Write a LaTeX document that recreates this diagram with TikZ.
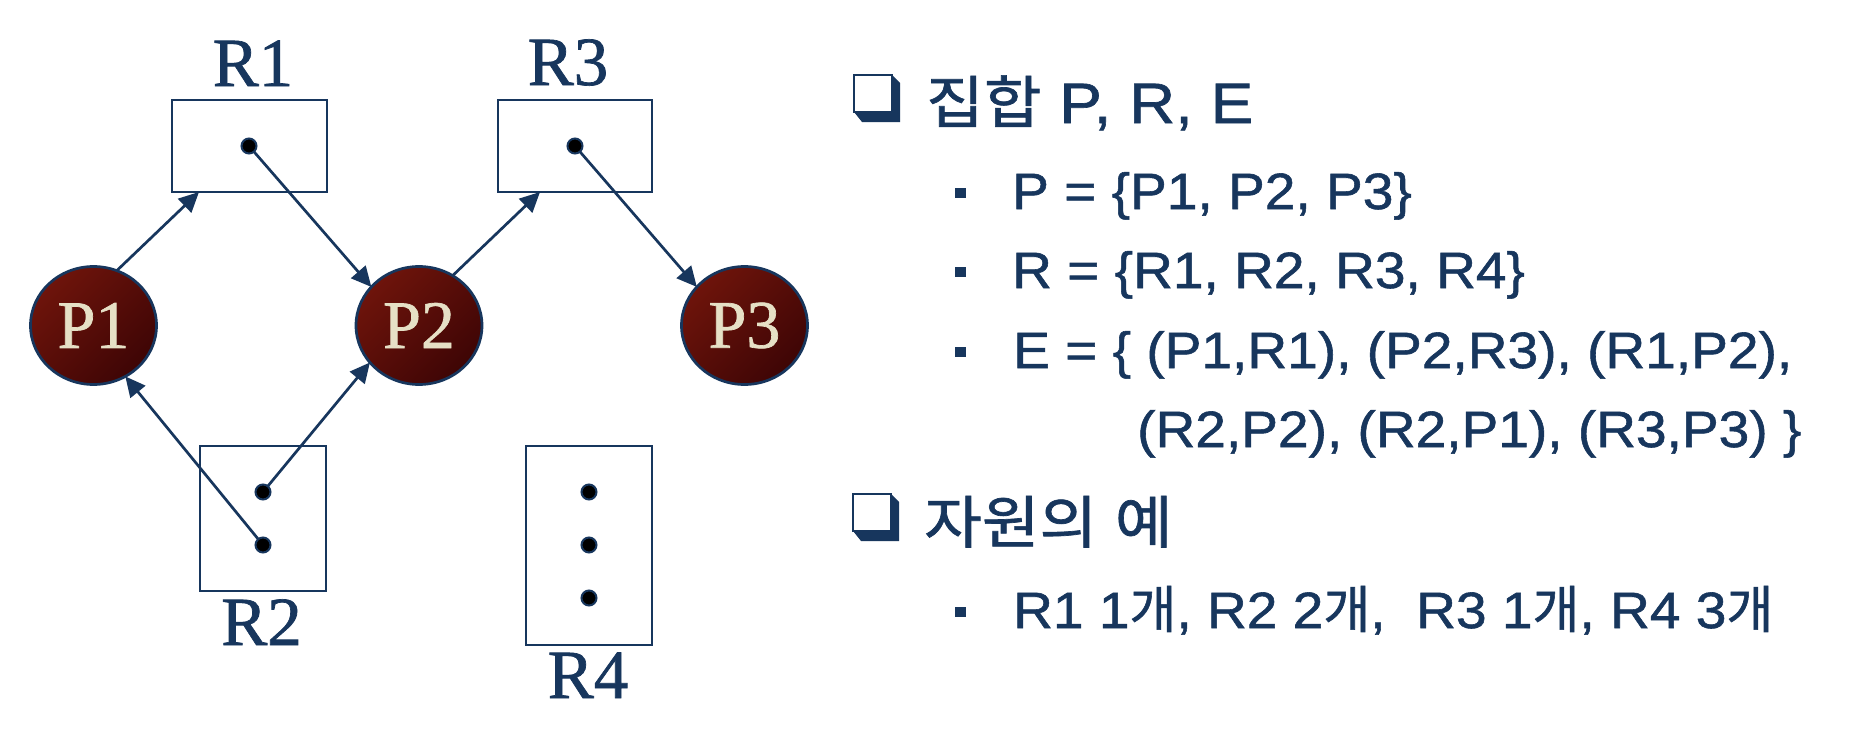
\documentclass[tikz,border=0pt]{standalone}
\usepackage{fontspec}
\setmainfont{Liberation Sans}
\newfontfamily\hsans[FakeStretch=1.12,FakeBold=1.1]{Liberation Sans}
\newfontfamily\bsans[FakeStretch=1.08,FakeBold=1.1]{Liberation Sans}
\newfontfamily\krhead[FakeStretch=1.1,FakeBold=1.2]{Noto Sans CJK KR}
\newfontfamily\krfont[FakeBold=1.1]{Noto Sans CJK KR}
\newfontfamily\rmlabel[FakeBold=1.0]{Liberation Serif}
\usetikzlibrary{arrows.meta,shapes.geometric}
\definecolor{navy}{HTML}{17365D}
\definecolor{redA}{HTML}{6E140B}
\definecolor{redB}{HTML}{3E0505}
\definecolor{cream}{HTML}{E6E0C6}
\newcommand{\hk}[1]{{\krhead\fontsize{57pt}{57pt}\selectfont #1}}
\newcommand{\bk}[1]{{\krfont\fontsize{51pt}{51pt}\selectfont #1}}
\tikzset{
  procnode/.style={ellipse, draw=navy, line width=2.7pt, minimum width=126pt, minimum height=118pt,
    inner sep=0pt, outer sep=0pt, top color=redA, bottom color=redB, shading angle=45,
    text=cream, font={\rmlabel\fontsize{68pt}{68pt}\selectfont}},
  resbox/.style={rectangle, draw=navy, line width=2.7pt, inner sep=0pt, outer sep=0pt},
  instdot/.style={circle, fill=black, draw=navy, line width=2pt, minimum size=15pt, inner sep=0pt, outer sep=0pt},
  rlab/.style={text=navy, font={\rmlabel\fontsize{69pt}{69pt}\selectfont}, anchor=base, inner sep=0pt},
  conn/.style={draw=navy, line width=2.7pt, -{Triangle[length=20pt,width=19pt]}},
  headtxt/.style={text=navy, anchor=base west, inner sep=0pt, font={\hsans\fontsize{57pt}{57pt}\selectfont}},
  bodytxt/.style={text=navy, anchor=base west, inner sep=0pt, font={\bsans\fontsize{51pt}{51pt}\selectfont}},
  bulletsq/.style={rectangle, fill=navy, minimum width=11pt, minimum height=10pt, inner sep=0pt},
  chk/.pic={
    \fill[navy] (38,0) -- (46,8) -- (46,47) -- (8,47) -- (0,37) -- (38,37) -- cycle;
    \draw[navy, line width=1.5pt] (0,0) rectangle (38,37);
  }
}
\begin{document}
\begin{tikzpicture}[x=1pt, y=-1pt]
\useasboundingbox[fill=white] (0,0) rectangle (1864,752);

% resources
\node[resbox, minimum width=155pt, minimum height=92pt] (R1) at (249.5,146) {};
\node[resbox, minimum width=154pt, minimum height=92pt] (R3) at (575,146) {};
\node[resbox, minimum width=126pt, minimum height=145pt] (R2) at (263,518.5) {};
\node[resbox, minimum width=126pt, minimum height=199pt] (R4) at (589,545.5) {};

\node[rlab] (R1l) at (253,86) {R1};
\node[rlab] (R3l) at (568,85) {R3};
\node[rlab] (R2l) at (261.5,645) {R2};
\node[rlab] (R4l) at (588,698) {R4};

% instances
\node[instdot] (d1) at (249,146) {};
\node[instdot] (d3) at (575,146) {};
\node[instdot] (d2a) at (263,492) {};
\node[instdot] (d2b) at (263,545) {};
\node[instdot] (d4a) at (589,492) {};
\node[instdot] (d4b) at (589,545) {};
\node[instdot] (d4c) at (589,598) {};

% processes
\node[procnode] (P1) at (93.5,325.5) {P1};
\node[procnode] (P2) at (419,325.5) {P2};
\node[procnode] (P3) at (744.5,325.5) {P3};

% edges
\draw[conn] (P1.67) -- ([xshift=27pt]R1.south west);
\draw[conn] (d1) -- (P2.141);
\draw[conn] (P2.56) -- ([xshift=42pt]R3.south west);
\draw[conn] (d3) -- (P3.141);
\draw[conn] (d2a) -- (P2.217);
\draw[conn] (d2b) -- (P1.302);

% text on the right
\pic (c1) at (854,75) {chk};
\node[headtxt] (h1) at (926,123) {\hk{집합} P, R, E};

\node[bulletsq] (b1) at (960.5,193) {};
\node[bodytxt] (t1) at (1012,209) {P = \{P1, P2, P3\}};
\node[bulletsq] (b2) at (960.5,272) {};
\node[bodytxt] (t2) at (1012,288) {R = \{R1, R2, R3, R4\}};
\node[bulletsq] (b3) at (960.5,352) {};
\node[bodytxt] (t3) at (1013,368) {E = \{ (P1,R1), (P2,R3), (R1,P2),};
\node[bodytxt] (t4) at (1137,447) {(R2,P2), (R2,P1), (R3,P3) \}};

\pic (c2) at (853,494) {chk};
\node[headtxt] (h2) at (924,543) {\hk{자원의} \hk{예}};

\node[bulletsq] (b4) at (960.5,612) {};
\node[bodytxt] (t5) at (1013,628) {R1 1\bk{개}, R2 2\bk{개},\ \ R3 1\bk{개}, R4 3\bk{개}};
\end{tikzpicture}
\end{document}
